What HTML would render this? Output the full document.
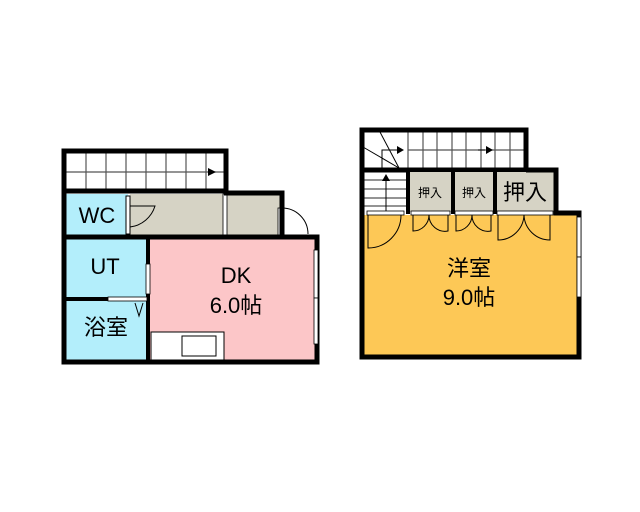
<!DOCTYPE html>
<html><head><meta charset="utf-8"><style>body{margin:0;background:#fff}svg{display:block}text{font-family:"Liberation Sans","Noto Sans CJK JP",sans-serif}</style></head>
<body><svg width="640" height="512" viewBox="0 0 640 512" xmlns="http://www.w3.org/2000/svg">
<rect x="64" y="151" width="162" height="40" fill="#fff"/>
<g stroke="#555" stroke-width="1.2">
<line x1="66" y1="172" x2="224" y2="172"/>
<line x1="86" y1="153" x2="86" y2="190"/><line x1="106" y1="153" x2="106" y2="190"/><line x1="126" y1="153" x2="126" y2="190"/><line x1="146" y1="153" x2="146" y2="190"/><line x1="166" y1="153" x2="166" y2="190"/><line x1="186" y1="153" x2="186" y2="190"/><line x1="206" y1="153" x2="206" y2="190"/>
</g>
<polygon points="208,168 216,172 208,176" fill="#000"/>
<rect x="64" y="151" width="162" height="40" fill="none" stroke="#000" stroke-width="5"/>
<rect x="64" y="194" width="64" height="42" fill="#b3eefb"/>
<rect x="130" y="194" width="152" height="42" fill="#d6d3c5"/>
<rect x="126" y="196" width="4" height="38" fill="#fff" stroke="#000" stroke-width="1"/>
<path d="M130 227 A30 30 0 0 0 155 206 L130 206" fill="none" stroke="#000" stroke-width="1"/>
<rect x="223" y="194" width="4" height="42" fill="#fff" stroke="#000" stroke-width="0.8"/>
<rect x="278" y="208" width="4" height="28" fill="#fff" stroke="#000" stroke-width="0.8"/>
<path d="M282 208 A26 26 0 0 1 308 234" fill="none" stroke="#000" stroke-width="1"/>
<path d="M64 192 V237 H282 V193 H224" fill="none" stroke="#000" stroke-width="5"/>
<rect x="64" y="239" width="83" height="122" fill="#b3eefb"/>
<rect x="150" y="239" width="165" height="122" fill="#fcc6c8"/>
<rect x="151" y="332" width="73" height="28" fill="#fff" stroke="#000" stroke-width="1"/>
<rect x="182" y="336" width="34" height="20" fill="#fff" stroke="#000" stroke-width="1"/>
<rect x="64" y="237" width="253" height="125" fill="none" stroke="#000" stroke-width="5"/>
<line x1="148" y1="237" x2="148" y2="362" stroke="#000" stroke-width="4"/>
<line x1="64" y1="299" x2="148" y2="299" stroke="#000" stroke-width="4"/>
<rect x="108" y="297" width="39" height="4" fill="#fff" stroke="#000" stroke-width="0.8"/>
<rect x="146" y="264" width="4" height="30" fill="#fff" stroke="#000" stroke-width="0.8"/>
<path d="M135 303 L139 316 L143 303" fill="none" stroke="#000" stroke-width="1"/>
<rect x="314" y="250" width="4" height="48" fill="#fff" stroke="#000" stroke-width="0.8"/>
<rect x="314" y="298" width="4" height="46" fill="#fff" stroke="#000" stroke-width="0.8"/>
<text x="97" y="223" font-size="22" text-anchor="middle">WC</text>
<text x="105" y="274" font-size="22" text-anchor="middle">UT</text>
<text x="106" y="335" font-size="22" text-anchor="middle">浴室</text>
<text x="236" y="283" font-size="22" text-anchor="middle">DK</text>
<text x="236" y="313" font-size="22" text-anchor="middle">6.0帖</text>
<rect x="362" y="130" width="164" height="40" fill="#fff"/>
<g stroke="#555" stroke-width="1.2">
<line x1="408" y1="150" x2="524" y2="150"/>
<line x1="408" y1="132" x2="408" y2="170"/><line x1="423" y1="132" x2="423" y2="170"/><line x1="437" y1="132" x2="437" y2="170"/><line x1="452" y1="132" x2="452" y2="170"/><line x1="466" y1="132" x2="466" y2="170"/><line x1="481" y1="132" x2="481" y2="170"/><line x1="495" y1="132" x2="495" y2="170"/><line x1="510" y1="132" x2="510" y2="170"/>
<line x1="364" y1="180" x2="408" y2="180"/><line x1="364" y1="189" x2="408" y2="189"/><line x1="364" y1="198" x2="408" y2="198"/><line x1="364" y1="206" x2="408" y2="206"/>
</g>
<g stroke="#000" stroke-width="1" fill="none">
<line x1="380" y1="132" x2="399" y2="168"/><line x1="363" y1="147" x2="399" y2="168"/>
<path d="M382 168 V150 H397"/><line x1="386" y1="212" x2="386" y2="180"/>
<line x1="478" y1="150" x2="485" y2="150"/>
</g>
<polygon points="397,146 404,150 397,154" fill="#000"/>
<polygon points="486,146 493,150 486,154" fill="#000"/>
<polygon points="382,181 386,174 390,181" fill="#000"/>
<rect x="362" y="130" width="164" height="40" fill="none" stroke="#000" stroke-width="5"/>
<rect x="410" y="172" width="41" height="40" fill="#d6d3c5"/>
<rect x="455" y="172" width="38" height="40" fill="#d6d3c5"/>
<rect x="497" y="172" width="57" height="40" fill="#d6d3c5"/>
<rect x="362" y="215" width="217" height="141" fill="#fdc856"/>
<path d="M362 168 V357 H579 V213 H556 V170 H526" fill="none" stroke="#000" stroke-width="5"/>
<line x1="408" y1="170" x2="408" y2="214" stroke="#000" stroke-width="4"/>
<line x1="453" y1="170" x2="453" y2="214" stroke="#000" stroke-width="4"/>
<line x1="495" y1="170" x2="495" y2="214" stroke="#000" stroke-width="4"/>
<g fill="#fff" stroke="#000" stroke-width="0.8">
<rect x="367" y="211" width="37" height="4"/><rect x="411" y="211" width="39" height="4"/><rect x="455" y="211" width="38" height="4"/><rect x="497" y="211" width="56" height="4"/>
<rect x="577" y="217" width="4" height="40"/><rect x="577" y="257" width="4" height="40"/>
</g>
<g fill="none" stroke="#000" stroke-width="1">
<path d="M368 215 V248 A33 33 0 0 0 401 215"/>
<path d="M413 215 V231 A16 16 0 0 0 429 215 A16 16 0 0 0 448 231 V215"/>
<path d="M456 215 V231 A16 16 0 0 0 472 215 A16 16 0 0 0 491 231 V215"/>
<path d="M498 215 V240 A26 26 0 0 0 524 215 A26 26 0 0 0 550 240 V215"/>
</g>
<text x="430" y="197" font-size="12" text-anchor="middle">押入</text>
<text x="474" y="197" font-size="12" text-anchor="middle">押入</text>
<text x="525" y="200" font-size="22" text-anchor="middle">押入</text>
<text x="469" y="276" font-size="22" text-anchor="middle">洋室</text>
<text x="469" y="305" font-size="22" text-anchor="middle">9.0帖</text>
</svg></body></html>
